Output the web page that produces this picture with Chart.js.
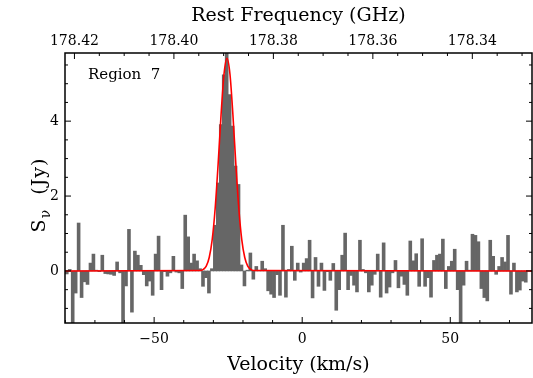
<!DOCTYPE html>
<html>
<head>
    <title>Region 7 spectrum</title>
    <script src="https://cdn.jsdelivr.net/npm/chart.js"></script>
    <style>
        body {
            margin: 0;
            padding: 0;
            background-color: #fff;
        }
        canvas {
            display: block;
        }
    </style>
</head>
<body>

<canvas id="specChart" width="533" height="378"></canvas>

<script>
    // channel grid (km/s)
    const chanStart = -80.0;
    const chanWidth = 1.0;

    // flux density per channel (Jy)
    const flux = [
        -0.08, 0.04, -1.45, -0.59, 1.28, -0.71, -0.29, -0.36, 0.21, 0.45,
        0.02, -0.02, 0.42, -0.07, -0.08, -0.09, -0.12, 0.24, -0.05, -1.45,
        -0.40, 1.11, -1.10, 0.53, 0.42, 0.15, -0.10, -0.40, -0.27, -0.65,
        0.45, 0.93, -0.50, -0.02, -0.14, -0.05, 0.39, -0.03, -0.05, -0.47,
        1.49, 0.91, 0.21, 0.45, 0.27, 0.06, -0.41, -0.18, -0.59, 0.06,
        1.22, 2.35, 3.91, 5.24, 5.95, 4.71, 3.87, 2.80, 2.31, 0.16,
        -0.40, 0.02, 0.48, -0.22, 0.12, 0.00, 0.26, 0.06, -0.53, -0.62,
        -0.71, -0.10, -0.65, 1.22, -0.70, 0.04, 0.66, -0.25, 0.21, -0.03,
        0.21, 0.33, 0.82, -0.72, 0.36, -0.41, 0.21, -0.52, -0.02, -0.25,
        0.20, -1.05, -0.50, 0.42, 1.01, -0.50, -0.12, -0.38, -0.56, 0.82,
        0.04, -0.05, -0.56, -0.38, -0.09, 0.45, -0.70, 0.75, -0.59, -0.43,
        -0.05, 0.28, -0.45, -0.14, -0.36, -0.65, 0.80, 0.27, 0.46, -0.41,
        0.86, -0.41, -0.18, -0.70, 0.28, 0.42, 0.45, 0.85, -0.47, 0.12,
        0.26, 0.58, -0.50, -1.45, -0.38, 0.26, 0.02, 0.98, 0.95, 0.78,
        -0.47, -0.71, -0.80, 0.82, 0.39, -0.09, 0.12, 0.36, 0.24, 0.95,
        -0.62, 0.21, -0.56, -0.51, -0.27, -0.30, 0.00, 0.00
    ];

    // gaussian fit (red)
    const fitVel = [-80.1, -34.4, -33.4, -32.4, -31.4, -30.4, -29.4, -28.4, -27.4, -26.4,
        -25.4, -24.4, -23.4, -22.4, -21.4, -20.4, -19.4, -18.4, -17.4, -16.4, 77.6];
    const fitFlux = [0, 0.01, 0.04, 0.13, 0.36, 0.83, 1.66, 2.84, 4.17, 5.26,
        5.68, 5.26, 4.17, 2.84, 1.66, 0.83, 0.36, 0.13, 0.04, 0.01, 0];

    // axis ranges
    const velRange = [-80.1, 77.6];          // km/s
    const freqRange = [178.3280, 178.4219];  // GHz (top axis, reversed)
    const fluxRange = [-1.39, 5.82];         // Jy

    const barPoints = flux.map((f, i) => ({x: chanStart + chanWidth * (i + 0.5), y: f}));
    const fitPoints = fitVel.map((v, i) => ({x: v, y: fitFlux[i]}));

    const tickFont = {family: 'DejaVu Serif', size: 14};
    const titleFont = {family: 'DejaVu Serif', size: 19};

    function isMultiple(v, step) {
        return Math.abs(v / step - Math.round(v / step)) < 1e-6;
    }

    // box + inward ticks, region label and y title
    const frameTicks = {
        id: 'frameTicks',
        afterDatasetsDraw(chart) {
            const {ctx, chartArea: a, scales} = chart;
            ctx.save();
            ctx.strokeStyle = '#000';
            ctx.lineWidth = 1.5;
            ctx.strokeRect(a.left, a.top, a.right - a.left, a.bottom - a.top);

            ctx.lineWidth = 1;
            ctx.beginPath();
            scales.x.ticks.forEach(t => {
                const px = scales.x.getPixelForValue(t.value);
                const len = t.label ? 6 : 3;
                ctx.moveTo(px, a.bottom);
                ctx.lineTo(px, a.bottom - len);
            });
            scales.x2.ticks.forEach(t => {
                const px = scales.x2.getPixelForValue(t.value);
                const len = t.label ? 6 : 3;
                ctx.moveTo(px, a.top);
                ctx.lineTo(px, a.top + len);
            });
            scales.y.ticks.forEach(t => {
                const py = scales.y.getPixelForValue(t.value);
                const len = t.label ? 6 : 3;
                ctx.moveTo(a.left, py);
                ctx.lineTo(a.left + len, py);
                ctx.moveTo(a.right, py);
                ctx.lineTo(a.right - len, py);
            });
            ctx.stroke();

            // region label
            ctx.fillStyle = '#000';
            ctx.font = '15px "DejaVu Serif"';
            ctx.textBaseline = 'middle';
            ctx.textAlign = 'left';
            ctx.fillText('Region  7', 88, 75);

            // y title: S with subscript nu
            ctx.translate(40, 195);
            ctx.rotate(-Math.PI / 2);
            ctx.letterSpacing = '1px';
            const big = '19px "DejaVu Serif"';
            const small = '14px "DejaVu Serif"';
            ctx.font = big;
            const wS = ctx.measureText('S').width;
            const wJ = ctx.measureText('  (Jy)').width;
            ctx.font = small;
            const wNu = ctx.measureText('\u03bd').width;
            const x0 = -(wS + wNu + wJ) / 2;
            ctx.font = big;
            ctx.fillText('S', x0, 0);
            ctx.font = small;
            ctx.fillText('\u03bd', x0 + wS, 6);
            ctx.font = big;
            ctx.fillText('  (Jy)', x0 + wS + wNu, 0);
            ctx.restore();
        }
    };

    const ctx = document.getElementById('specChart').getContext('2d');
    const specChart = new Chart(ctx, {
        type: 'bar',
        data: {
            datasets: [{
                type: 'line',
                data: fitPoints,
                borderColor: '#ff0000',
                borderWidth: 1.6,
                pointRadius: 0,
                cubicInterpolationMode: 'monotone',
                xAxisID: 'x',
                yAxisID: 'y',
                order: 0
            }, {
                type: 'bar',
                data: barPoints,
                backgroundColor: '#666666',
                borderWidth: 0,
                barPercentage: 1.0,
                categoryPercentage: 1.0,
                grouped: false,
                xAxisID: 'x',
                yAxisID: 'y',
                order: 1
            }]
        },
        options: {
            responsive: false,
            animation: false,
            layout: {padding: {left: 0, right: 1, top: 0, bottom: 0}},
            plugins: {
                legend: {display: false},
                tooltip: {enabled: false}
            },
            scales: {
                x: {
                    type: 'linear',
                    position: 'bottom',
                    min: velRange[0],
                    max: velRange[1],
                    offset: false,
                    grid: {display: false, drawTicks: false},
                    border: {display: false},
                    ticks: {
                        stepSize: 10,
                        autoSkip: false,
                        maxRotation: 0,
                        includeBounds: false,
                        padding: 8,
                        color: '#000',
                        font: tickFont,
                        callback: v => isMultiple(v, 50) ? (v < 0 ? '\u2212' + Math.abs(v) : String(v)) : ''
                    },
                    title: {
                        display: true,
                        text: 'Velocity (km/s)',
                        color: '#000',
                        font: titleFont,
                        padding: {top: 0, bottom: 2}
                    },
                    afterFit: s => { s.height = 55; }
                },
                x2: {
                    type: 'linear',
                    position: 'top',
                    reverse: true,
                    min: freqRange[0],
                    max: freqRange[1],
                    offset: false,
                    grid: {display: false, drawTicks: false},
                    border: {display: false},
                    ticks: {
                        stepSize: 0.005,
                        autoSkip: false,
                        maxRotation: 0,
                        includeBounds: false,
                        padding: 3,
                        color: '#000',
                        font: tickFont,
                        callback: v => isMultiple(v, 0.02) ? v.toFixed(2) : ''
                    },
                    title: {
                        display: true,
                        text: 'Rest Frequency (GHz)',
                        color: '#000',
                        font: titleFont,
                        padding: {top: 5, bottom: 0}
                    },
                    afterFit: s => { s.height = 53; }
                },
                y: {
                    type: 'linear',
                    position: 'left',
                    min: fluxRange[0],
                    max: fluxRange[1],
                    grid: {display: false, drawTicks: false},
                    border: {display: false},
                    ticks: {
                        stepSize: 0.5,
                        autoSkip: false,
                        includeBounds: false,
                        padding: 6,
                        color: '#000',
                        font: tickFont,
                        callback: v => isMultiple(v, 2) ? String(Math.round(v)) : ''
                    },
                    afterFit: s => { s.width = 65; }
                }
            }
        },
        plugins: [frameTicks]
    });
</script>

</body>
</html>
